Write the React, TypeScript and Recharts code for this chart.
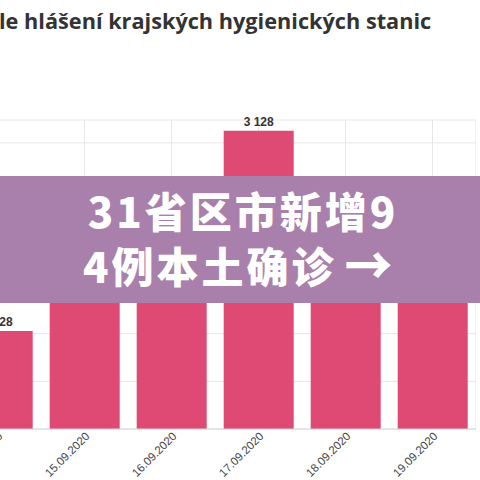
import { BarChart, Bar, XAxis, YAxis, CartesianGrid, LabelList } from 'recharts';

// Daily cases as reported by regional hygiene stations
const dates = ['14.09.2020', '15.09.2020', '16.09.2020', '17.09.2020', '18.09.2020', '19.09.2020'];
const cases = [1028, 1677, 2139, 3128, 1966, 1520];
const yTicks = [0, 500, 1000, 1500, 2000, 2500, 3000];

const titleText = 'le hlášení krajských hygienických stanic';
const bannerLine1 = '31省区市新增9';
const bannerLine2 = '4例本土确诊';
const bannerArrow = '→';

const data = dates.map((d, i) => ({ date: d, cases: cases[i] }));

const fmt = (v: any) => String(v).replace(/\B(?=(\d{3})+(?!\d))/g, ' ');

function DateTick({ x, y, payload }: any) {
    return (
        <g transform={`translate(${x + 3},${y - 3}) rotate(-45)`}>
            <text x={0} y={0} dy="0.35em" textAnchor="end" fill="#444" fontSize={11.5}
                fontFamily="'Liberation Sans', Arial, sans-serif">
                {payload.value}
            </text>
        </g>
    );
}

export default function App() {
    return (
        <div style={{ position: 'fixed', left: 0, top: 0, width: 480, height: 480, overflow: 'hidden', background: '#fff' }}>
            <div style={{
                position: 'absolute', left: -1, top: 10, whiteSpace: 'nowrap',
                fontFamily: "'Open Sans', sans-serif", fontWeight: 700, fontSize: 21.7, lineHeight: '21px', color: '#333'
            }}>
                {titleText}
            </div>

            <div style={{ position: 'absolute', left: -46, top: 100 }}>
                <BarChart width={522} height={380} data={data} margin={{ top: 20, right: 0, bottom: 0, left: 0 }}
                    barCategoryGap="10%">
                    <CartesianGrid stroke="#e6e6e6" vertical horizontal />
                    <XAxis dataKey="date" height={51} tick={<DateTick />} tickLine={false}
                        axisLine={{ stroke: '#d6d6d6' }} interval={0} />
                    <YAxis hide domain={[0, 3240]} ticks={yTicks} />
                    <Bar dataKey="cases" fill="#de4a73" isAnimationActive={false}>
                        <LabelList dataKey="cases" position="top" formatter={fmt} fill="#333" fontSize={12}
                            fontWeight={700} fontFamily="'Liberation Sans', Arial, sans-serif" />
                    </Bar>
                </BarChart>
            </div>

            <div style={{
                position: 'absolute', left: 0, top: 176, width: 480, height: 127, background: '#a97fab',
                color: '#fff', fontFamily: "'Noto Sans CJK SC', sans-serif", fontWeight: 900, fontSize: 42,
                lineHeight: '53px', letterSpacing: 3, whiteSpace: 'nowrap'
            }}>
                <div style={{ marginTop: 7, paddingLeft: 6, textAlign: 'center' }}>{bannerLine1}</div>
                <div style={{ paddingLeft: 83 }}>
                    {bannerLine2}
                    <span style={{ fontSize: 48, marginLeft: 8, display: 'inline-block', transform: 'scaleY(1.1)' }}>{bannerArrow}</span>
                </div>
            </div>
        </div>
    );
}
